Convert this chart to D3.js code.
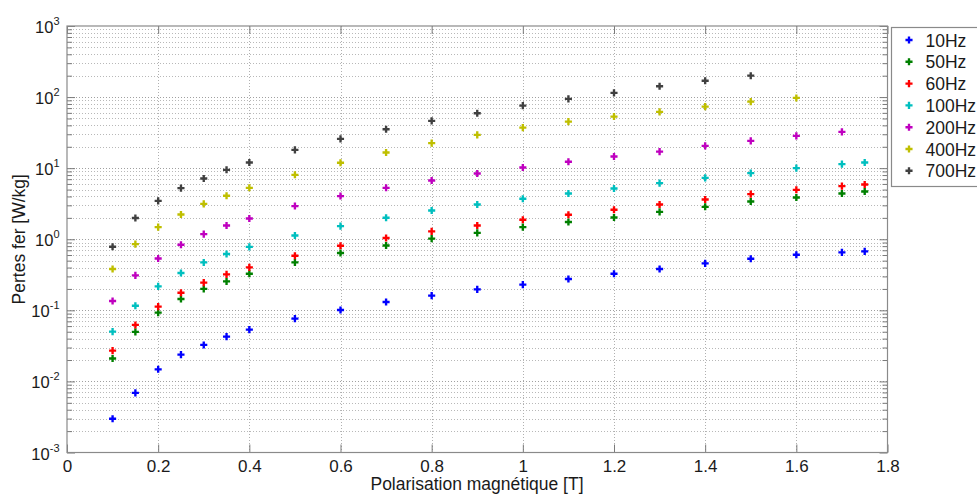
<!DOCTYPE html>
<html><head><meta charset="utf-8">
<script src="https://cdn.jsdelivr.net/npm/d3@7"></script>
<style>
html,body{margin:0;padding:0;background:#fff;}
svg{display:block;font-family:"Liberation Sans",Arial,sans-serif;}
</style></head>
<body>
<svg id="chart" width="977" height="494"></svg>
<script>
const xValues = [0.1,0.15,0.2,0.25,0.3,0.35,0.4,0.5,0.6,0.7,0.8,0.9,1.0,1.1,1.2,1.3,1.4,1.5,1.6,1.7,1.75];
const seriesNames = ["10Hz","50Hz","60Hz","100Hz","200Hz","400Hz","700Hz"];
const seriesColors = ["#0000ff","#008000","#ff0000","#00bfbf","#bf00bf","#bfbf00","#404040"];
const loss10 = [0.00298,0.0069,0.0148,0.0238,0.0326,0.0427,0.0536,0.0764,0.101,0.131,0.161,0.197,0.230,0.276,0.327,0.381,0.457,0.532,0.605,0.653,0.675];
const loss50 = [0.0210,0.0497,0.0928,0.1445,0.200,0.255,0.327,0.472,0.640,0.818,1.02,1.23,1.48,1.75,2.02,2.43,2.86,3.40,3.87,4.40,4.70];
const loss60 = [0.0271,0.0623,0.1127,0.177,0.245,0.321,0.402,0.586,0.811,1.04,1.29,1.56,1.88,2.21,2.60,3.08,3.63,4.32,4.96,5.59,5.89];
const loss100 = [0.0501,0.116,0.217,0.335,0.472,0.620,0.78,1.13,1.53,2.01,2.54,3.08,3.71,4.40,5.18,6.16,7.31,8.51,10.0,11.4,12.0];
const loss200 = [0.1355,0.310,0.537,0.837,1.18,1.56,1.96,2.93,4.05,5.29,6.70,8.41,10.2,12.3,14.6,17.1,20.6,24.2,28.5,32.4];
const loss400 = [0.381,0.855,1.48,2.23,3.15,4.09,5.29,8.06,11.9,16.6,22.5,29.4,37.2,45.2,53.2,61.9,73.5,86.4,97.3];
const loss700 = [0.785,1.99,3.47,5.24,7.16,9.48,12.0,18.1,25.8,35.3,46.3,59.3,75.9,94.3,114.5,142,170,200];
const xTicks = [0,0.2,0.4,0.6,0.8,1,1.2,1.4,1.6,1.8];
const yTickExps = [-3,-2,-1,0,1,2,3];
const xLabel = "Polarisation magnétique [T]";
const yLabel = "Pertes fer [W/kg]";

const allSeries = [loss10,loss50,loss60,loss100,loss200,loss400,loss700];

const svg = d3.select("#chart");
const L = 67, R = 887.5, T = 26, B = 452.5;
const x = d3.scaleLinear().domain([0,1.8]).range([L,R]);
const y = d3.scaleLog().domain([1e-3,1e3]).range([B,T]);

// grid
const grid = svg.append("g");
const minorVals = [];
for (let e=-3; e<3; e++) for (let k=2; k<=9; k++) minorVals.push(k*Math.pow(10,e));
grid.selectAll(".ymin").data(minorVals).join("line")
  .attr("x1",L).attr("x2",R).attr("y1",d=>Math.round(y(d))+0.5).attr("y2",d=>Math.round(y(d))+0.5)
  .attr("stroke","#b8b8b8").attr("stroke-width",1).attr("stroke-dasharray","1,2");
grid.selectAll(".ymaj").data(yTickExps.slice(1,-1)).join("line")
  .attr("x1",L).attr("x2",R).attr("y1",d=>Math.round(y(Math.pow(10,d)))+0.5).attr("y2",d=>Math.round(y(Math.pow(10,d)))+0.5)
  .attr("stroke","#a0a0a0").attr("stroke-width",1).attr("stroke-dasharray","1,2");
grid.selectAll(".xmaj").data(xTicks.slice(1,-1)).join("line")
  .attr("x1",d=>Math.round(x(d))+0.5).attr("x2",d=>Math.round(x(d))+0.5).attr("y1",T).attr("y2",B)
  .attr("stroke","#b0b0b0").attr("stroke-width",1).attr("stroke-dasharray","1,2");

// axes with d3 axis (ticks inward)
const xAxisB = d3.axisBottom(x).tickValues(xTicks).tickSize(-8).tickPadding(7).tickFormat(d3.format("~g"));
const gxb = svg.append("g").attr("transform",`translate(0,${B})`).call(xAxisB);
const xAxisT = d3.axisTop(x).tickValues(xTicks).tickSize(-8).tickFormat("");
svg.append("g").attr("transform",`translate(0,${T})`).call(xAxisT);
const yAxisL = d3.axisLeft(y).tickValues(yTickExps.map(e=>Math.pow(10,e))).tickSize(-8).tickFormat("");
svg.append("g").attr("transform",`translate(${L},0)`).call(yAxisL);
const yAxisR = d3.axisRight(y).tickValues(yTickExps.map(e=>Math.pow(10,e))).tickSize(-8).tickFormat("");
svg.append("g").attr("transform",`translate(${R},0)`).call(yAxisR);
const yMinL = d3.axisLeft(y).tickValues(minorVals).tickSize(-5).tickFormat("");
svg.append("g").attr("transform",`translate(${L},0)`).call(yMinL);
const yMinR = d3.axisRight(y).tickValues(minorVals).tickSize(-5).tickFormat("");
svg.append("g").attr("transform",`translate(${R},0)`).call(yMinR);
svg.selectAll(".domain").remove();
svg.selectAll(".tick line").attr("stroke","#7a7a7a");
gxb.selectAll(".tick text").attr("font-size",17).attr("fill","#1a1a1a").attr("font-family","Liberation Sans, Arial, sans-serif");

// y tick labels 10^n
const yl = svg.append("g");
yTickExps.forEach(e=>{
  const t = yl.append("text").attr("x",59.5).attr("y",y(Math.pow(10,e))+7)
    .attr("text-anchor","end").attr("font-size",16.5).attr("fill","#1a1a1a");
  t.append("tspan").text("10");
  t.append("tspan").attr("font-size",11).attr("dy",-8).text(String(e));
});

// box
svg.append("rect").attr("x",L).attr("y",T).attr("width",R-L).attr("height",B-T)
  .attr("fill","none").attr("stroke","#8a8a8a").attr("stroke-width",1.2);

// points
const sym = d3.symbol().type(d3.symbolCross).size(28);
allSeries.forEach((vals,i)=>{
  svg.append("g").selectAll("path").data(vals).join("path")
    .attr("d",sym)
    .attr("transform",(d,j)=>`translate(${x(xValues[j])},${y(d)})`)
    .attr("fill",seriesColors[i]);
});

// labels
svg.append("text").attr("x",477).attr("y",490).attr("text-anchor","middle")
  .attr("font-size",17.5).attr("fill","#1a1a1a").text(xLabel);
svg.append("text").attr("transform",`translate(25,${(T+B)/2}) rotate(-90)`).attr("text-anchor","middle")
  .attr("font-size",17.5).attr("fill","#1a1a1a").text(yLabel);

// legend
const lg = svg.append("g");
lg.append("rect").attr("x",891.5).attr("y",27.5).attr("width",100).attr("height",159)
  .attr("fill","#fff").attr("stroke","#8a8a8a").attr("stroke-width",1.2);
seriesNames.forEach((n,i)=>{
  const yy = 40 + i*21.8;
  lg.append("path").attr("d",sym).attr("transform",`translate(909,${yy})`).attr("fill",seriesColors[i]);
  lg.append("text").attr("x",925.5).attr("y",yy+6.5).attr("font-size",17.5).attr("fill","#1a1a1a").text(n);
});
</script>
</body></html>
